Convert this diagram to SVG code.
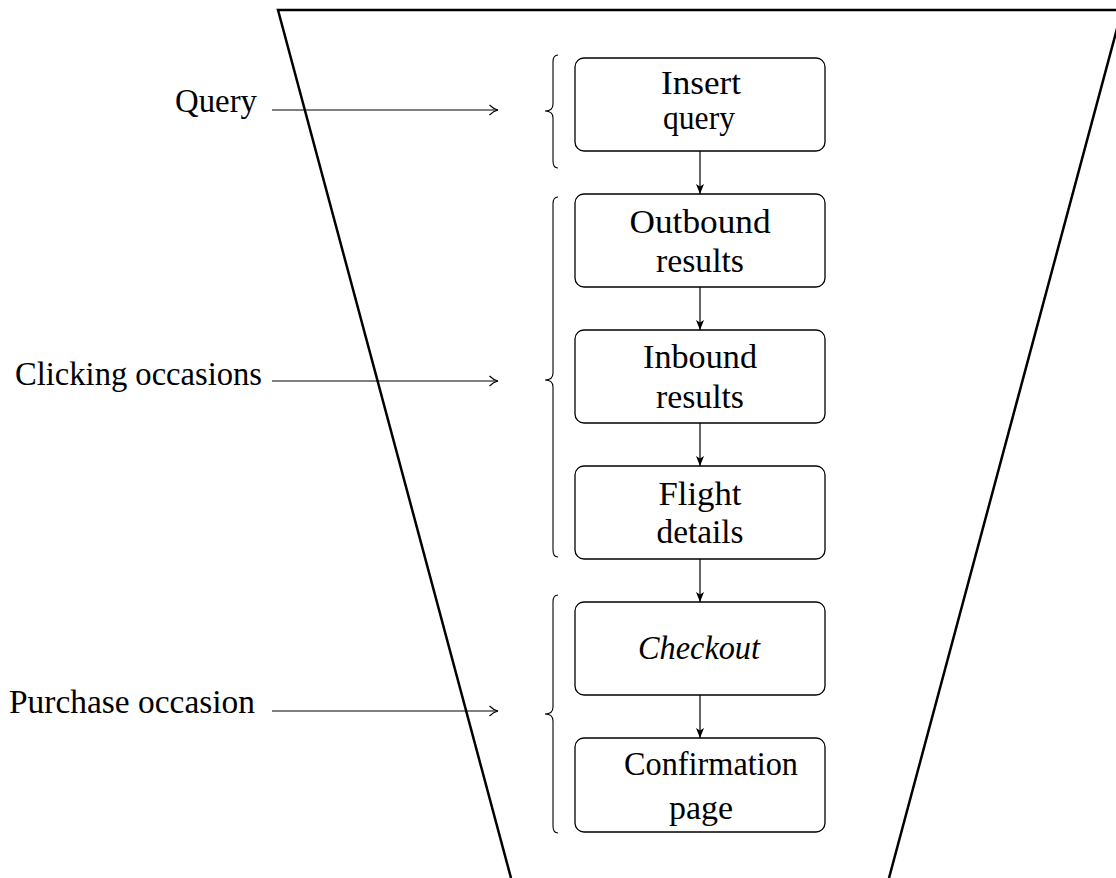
<svg xmlns="http://www.w3.org/2000/svg" width="1116" height="878" viewBox="0 0 1116 878">
<style>
text{font-family:'Liberation Serif','DejaVu Serif',serif;font-size:33px;fill:#000}
.box{fill:#fff;stroke:#000;stroke-width:1.3}
.lbl{text-anchor:end}
.c{text-anchor:middle}
.con{stroke:#000;stroke-width:1.2;fill:none}
.brace{stroke:#000;stroke-width:1.1;fill:none}
</style>
<defs>
<marker id="tip" viewBox="0 0 10 10" refX="10" refY="5" markerWidth="10" markerHeight="10" markerUnits="userSpaceOnUse" orient="auto">
<path d="M0,1 L10,5 L0,9 L2.5,5 Z" fill="#000"/>
</marker>
<marker id="open" viewBox="0 0 10 12" refX="9.5" refY="6" markerWidth="10" markerHeight="12" markerUnits="userSpaceOnUse" orient="auto">
<path d="M1,1 Q5,5 9.5,6 Q5,7 1,11" fill="none" stroke="#000" stroke-width="1.1"/>
</marker>
</defs>
<rect width="1116" height="878" fill="#fff"/>
<g id="funnel">
<polyline points="511,878 278,10 1122,10 889,878" fill="none" stroke="#000" stroke-width="2.5" stroke-linejoin="miter"/>
</g>
<g id="braces">
<path class="brace" d="M558,55 Q553,55 553,62 L553,104 Q553,111 545,111 Q553,111 553,118 L553,161 Q553,168 558,168"/>
<path class="brace" d="M558,197 Q553,197 553,204 L553,373 Q553,380 545,380 Q553,380 553,387 L553,550 Q553,557 558,557"/>
<path class="brace" d="M558,595 Q553,595 553,602 L553,707 Q553,714 545,714 Q553,714 553,721 L553,826 Q553,833 558,833"/>
</g>
<g id="label-query"><text class="lbl" x="257" y="112" font-family="Liberation Serif, DejaVu Serif, serif" textLength="82" lengthAdjust="spacingAndGlyphs">Query</text></g>
<g id="label-clicking"><text class="lbl" x="262" y="385" font-family="Liberation Serif, DejaVu Serif, serif" textLength="247" lengthAdjust="spacingAndGlyphs">Clicking occasions</text></g>
<g id="label-purchase"><text class="lbl" x="255" y="713" font-family="Liberation Serif, DejaVu Serif, serif" textLength="246" lengthAdjust="spacingAndGlyphs">Purchase occasion</text></g>
<g id="insert-query">
<rect class="box" x="575" y="58" width="250" height="93" rx="9"/>
<text class="c" x="701" y="94" textLength="80" lengthAdjust="spacingAndGlyphs">Insert</text>
<text class="c" x="699" y="129" textLength="72" lengthAdjust="spacingAndGlyphs">query</text>
</g>
<g id="outbound-results">
<rect class="box" x="575" y="194" width="250" height="93" rx="9"/>
<text class="c" x="700" y="233" textLength="141" lengthAdjust="spacingAndGlyphs">Outbound</text>
<text class="c" x="700" y="272" textLength="88" lengthAdjust="spacingAndGlyphs">results</text>
</g>
<g id="inbound-results">
<rect class="box" x="575" y="330" width="250" height="93" rx="9"/>
<text class="c" x="700" y="368" textLength="114" lengthAdjust="spacingAndGlyphs">Inbound</text>
<text class="c" x="700" y="408" textLength="88" lengthAdjust="spacingAndGlyphs">results</text>
</g>
<g id="flight-details">
<rect class="box" x="575" y="466" width="250" height="93" rx="9"/>
<text class="c" x="700" y="505" textLength="83" lengthAdjust="spacingAndGlyphs">Flight</text>
<text class="c" x="700" y="543" textLength="87" lengthAdjust="spacingAndGlyphs">details</text>
</g>
<g id="checkout">
<rect class="box" x="575" y="602" width="250" height="93" rx="9"/>
<text class="c" x="699" y="659" font-style="italic" textLength="122" lengthAdjust="spacingAndGlyphs">Checkout</text>
</g>
<g id="confirmation-page">
<rect class="box" x="575" y="738" width="250" height="94" rx="9"/>
<text class="c" x="711" y="775" textLength="174" lengthAdjust="spacingAndGlyphs">Confirmation</text>
<text class="c" x="701" y="819" textLength="64" lengthAdjust="spacingAndGlyphs">page</text>
</g>
<g id="connectors">
<line class="con" x1="272" y1="110" x2="498" y2="110" marker-end="url(#open)"/>
<line class="con" x1="272" y1="381" x2="498" y2="381" marker-end="url(#open)"/>
<line class="con" x1="272" y1="711" x2="498" y2="711" marker-end="url(#open)"/>
<line class="con" x1="700" y1="151" x2="700" y2="194" marker-end="url(#tip)"/>
<line class="con" x1="700" y1="287" x2="700" y2="330" marker-end="url(#tip)"/>
<line class="con" x1="700" y1="423" x2="700" y2="466" marker-end="url(#tip)"/>
<line class="con" x1="700" y1="559" x2="700" y2="602" marker-end="url(#tip)"/>
<line class="con" x1="700" y1="695" x2="700" y2="738" marker-end="url(#tip)"/>
</g>
</svg>
